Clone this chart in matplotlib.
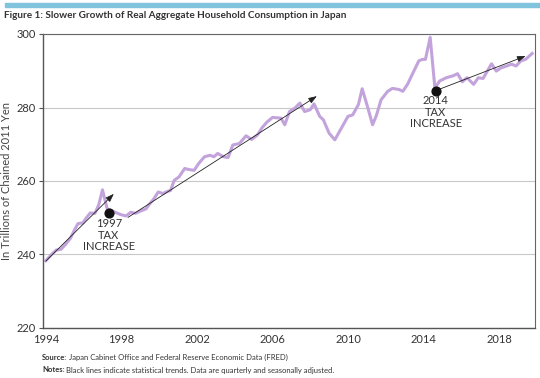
import matplotlib
matplotlib.use("Agg")
import matplotlib.pyplot as plt
from matplotlib.patches import Rectangle

plt.rcParams['font.family'] = ['Lato', 'DejaVu Sans']

# Consumo real trimestral (billones de yenes encadenados de 2011)
anios = [1994.0, 1994.3, 1994.55, 1994.8, 1995.05, 1995.3, 1995.5, 1995.7, 1995.95,
         1996.15, 1996.35, 1996.6, 1996.8, 1997.0, 1997.25, 1997.5, 1997.75, 1998.0,
         1998.25, 1998.5, 1998.75, 1999.0, 1999.3, 1999.5, 1999.7, 1999.95, 2000.2,
         2000.45, 2000.6, 2000.8, 2001.05, 2001.35, 2001.6, 2001.85, 2002.1, 2002.4,
         2002.7, 2002.9, 2003.1, 2003.4, 2003.65, 2003.9, 2004.25, 2004.6, 2004.9,
         2005.2, 2005.45, 2005.7, 2006.0, 2006.25, 2006.45, 2006.65, 2006.9, 2007.2,
         2007.45, 2007.7, 2008.0, 2008.2, 2008.5, 2008.7, 2009.0, 2009.3, 2009.65,
         2010.0, 2010.25, 2010.55, 2010.75, 2011.05, 2011.3, 2011.5, 2011.75, 2012.1,
         2012.35, 2012.7, 2012.9, 2013.15, 2013.4, 2013.75, 2013.95, 2014.1, 2014.35,
         2014.6, 2014.85, 2015.2, 2015.55, 2015.8, 2016.05, 2016.3, 2016.65, 2016.9,
         2017.15, 2017.6, 2017.85, 2018.1, 2018.4, 2018.65, 2018.9, 2019.15, 2019.4,
         2019.75]
consumo = [238.3, 240.0, 241.2, 241.4, 242.8, 244.4, 246.5, 248.4, 248.6,
           250.0, 251.3, 251.2, 253.5, 257.6, 252.4, 251.9, 251.3, 250.8,
           250.5, 251.5, 251.2, 251.8, 252.4, 253.8, 255.0, 257.0, 256.6,
           257.2, 257.4, 260.2, 261.1, 263.4, 263.1, 262.9, 264.8, 266.6,
           267.0, 266.6, 267.5, 266.6, 266.4, 269.8, 270.2, 272.3, 271.3,
           272.5, 274.5, 276.0, 277.3, 277.2, 277.1, 275.3, 278.9, 279.9,
           281.2, 278.9, 279.4, 281.0, 277.6, 276.6, 273.0, 271.2, 274.4,
           277.6, 278.0, 280.8, 285.1, 279.9, 275.3, 277.8, 282.1, 284.4,
           285.2, 284.9, 284.4, 286.3, 289.0, 292.7, 293.1, 293.1, 299.1,
           285.3, 287.2, 288.1, 288.6, 289.2, 287.0, 288.1, 286.3, 288.1,
           287.9, 291.9, 289.9, 290.8, 291.3, 291.8, 291.3, 292.7, 293.1,
           294.7]

# Tendencias (inicio -> fin)
tendencias = [((1994.0, 238.2), (1997.6, 256.5)),
              ((1998.35, 250.1), (2008.35, 283.1)),
              ((2014.65, 284.6), (2019.4, 294.0))]

# Subidas de impuestos
eventos_x = [1997.33, 2014.65]
eventos_y = [251.2, 284.6]
eventos_txt = ["1997\nTAX\nINCREASE", "2014\nTAX\nINCREASE"]

anios_ticks = [1994, 1998, 2002, 2006, 2010, 2014, 2018]
y_ticks = [220, 240, 260, 280, 300]

fig = plt.figure(figsize=(5.4, 3.78), dpi=100)
ax = fig.add_axes([43 / 540, 50 / 378, 492 / 540, 294 / 378])

# Barra azul superior
fig.patches.append(Rectangle((0.009, 1 - 7 / 378), 0.991, 4 / 378,
                             transform=fig.transFigure, color='#7fc3dc', zorder=0))
fig.text(0.008, 1 - 15 / 378, "Figure 1: Slower Growth of Real Aggregate Household Consumption in Japan",
         fontsize=7.2, fontweight='bold', color='#333333', va='center', ha='left')

ax.plot(anios, consumo, color='#c3a3dc', lw=2.2, solid_joinstyle='round', zorder=2)

for (x0, y0), (x1, y1) in tendencias:
    ax.annotate("", xy=(x1, y1), xytext=(x0, y0),
                arrowprops=dict(arrowstyle='-|>,head_length=0.5,head_width=0.18',
                                color='#222222', lw=0.6, shrinkA=0, shrinkB=0),
                zorder=3)

ax.scatter(eventos_x, eventos_y, s=40, color='#111111', zorder=4)
for x, y, t in zip(eventos_x, eventos_y, eventos_txt):
    ax.text(x, y - 1.3, t, ha='center', va='top', fontsize=8, color='#333333',
            linespacing=1.05, zorder=4)

ax.set_xlim(1993.85, 2019.9)
ax.set_ylim(220, 300)
ax.set_xticks(anios_ticks)
ax.set_yticks(y_ticks)
ax.tick_params(axis='x', length=0, labelsize=8, labelcolor='#333333', pad=4)
ax.tick_params(axis='y', length=3, width=0.8, color='#555555', labelsize=8,
               labelcolor='#333333', pad=2)
ax.grid(axis='y', color='#c8c8c8', lw=0.8)
ax.set_axisbelow(True)
for lado in ['left', 'bottom']:
    ax.spines[lado].set_color('#555555')
    ax.spines[lado].set_linewidth(1.0)
for lado in ['top', 'right']:
    ax.spines[lado].set_color('#666666')
    ax.spines[lado].set_linewidth(0.8)

ax.set_ylabel("In Trillions of Chained 2011 Yen", fontsize=8, color='#444444')
ax.yaxis.set_label_coords(-0.063, 0.5)

# Fuente y notas (etiqueta en negrita + texto normal)
fig.text(42 / 540, 1 - 357 / 378, "Source:", fontsize=5.5, fontweight='bold',
         color='#333333', va='center')
fig.text(69 / 540, 1 - 357 / 378, "Japan Cabinet Office and Federal Reserve Economic Data (FRED)",
         fontsize=5.5, color='#333333', va='center')
fig.text(42 / 540, 1 - 370 / 378, "Notes:", fontsize=5.5, fontweight='bold',
         color='#333333', va='center')
fig.text(66 / 540, 1 - 370 / 378, "Black lines indicate statistical trends. Data are quarterly and seasonally adjusted.",
         fontsize=5.5, color='#333333', va='center')

plt.savefig('out.png', dpi=100)
